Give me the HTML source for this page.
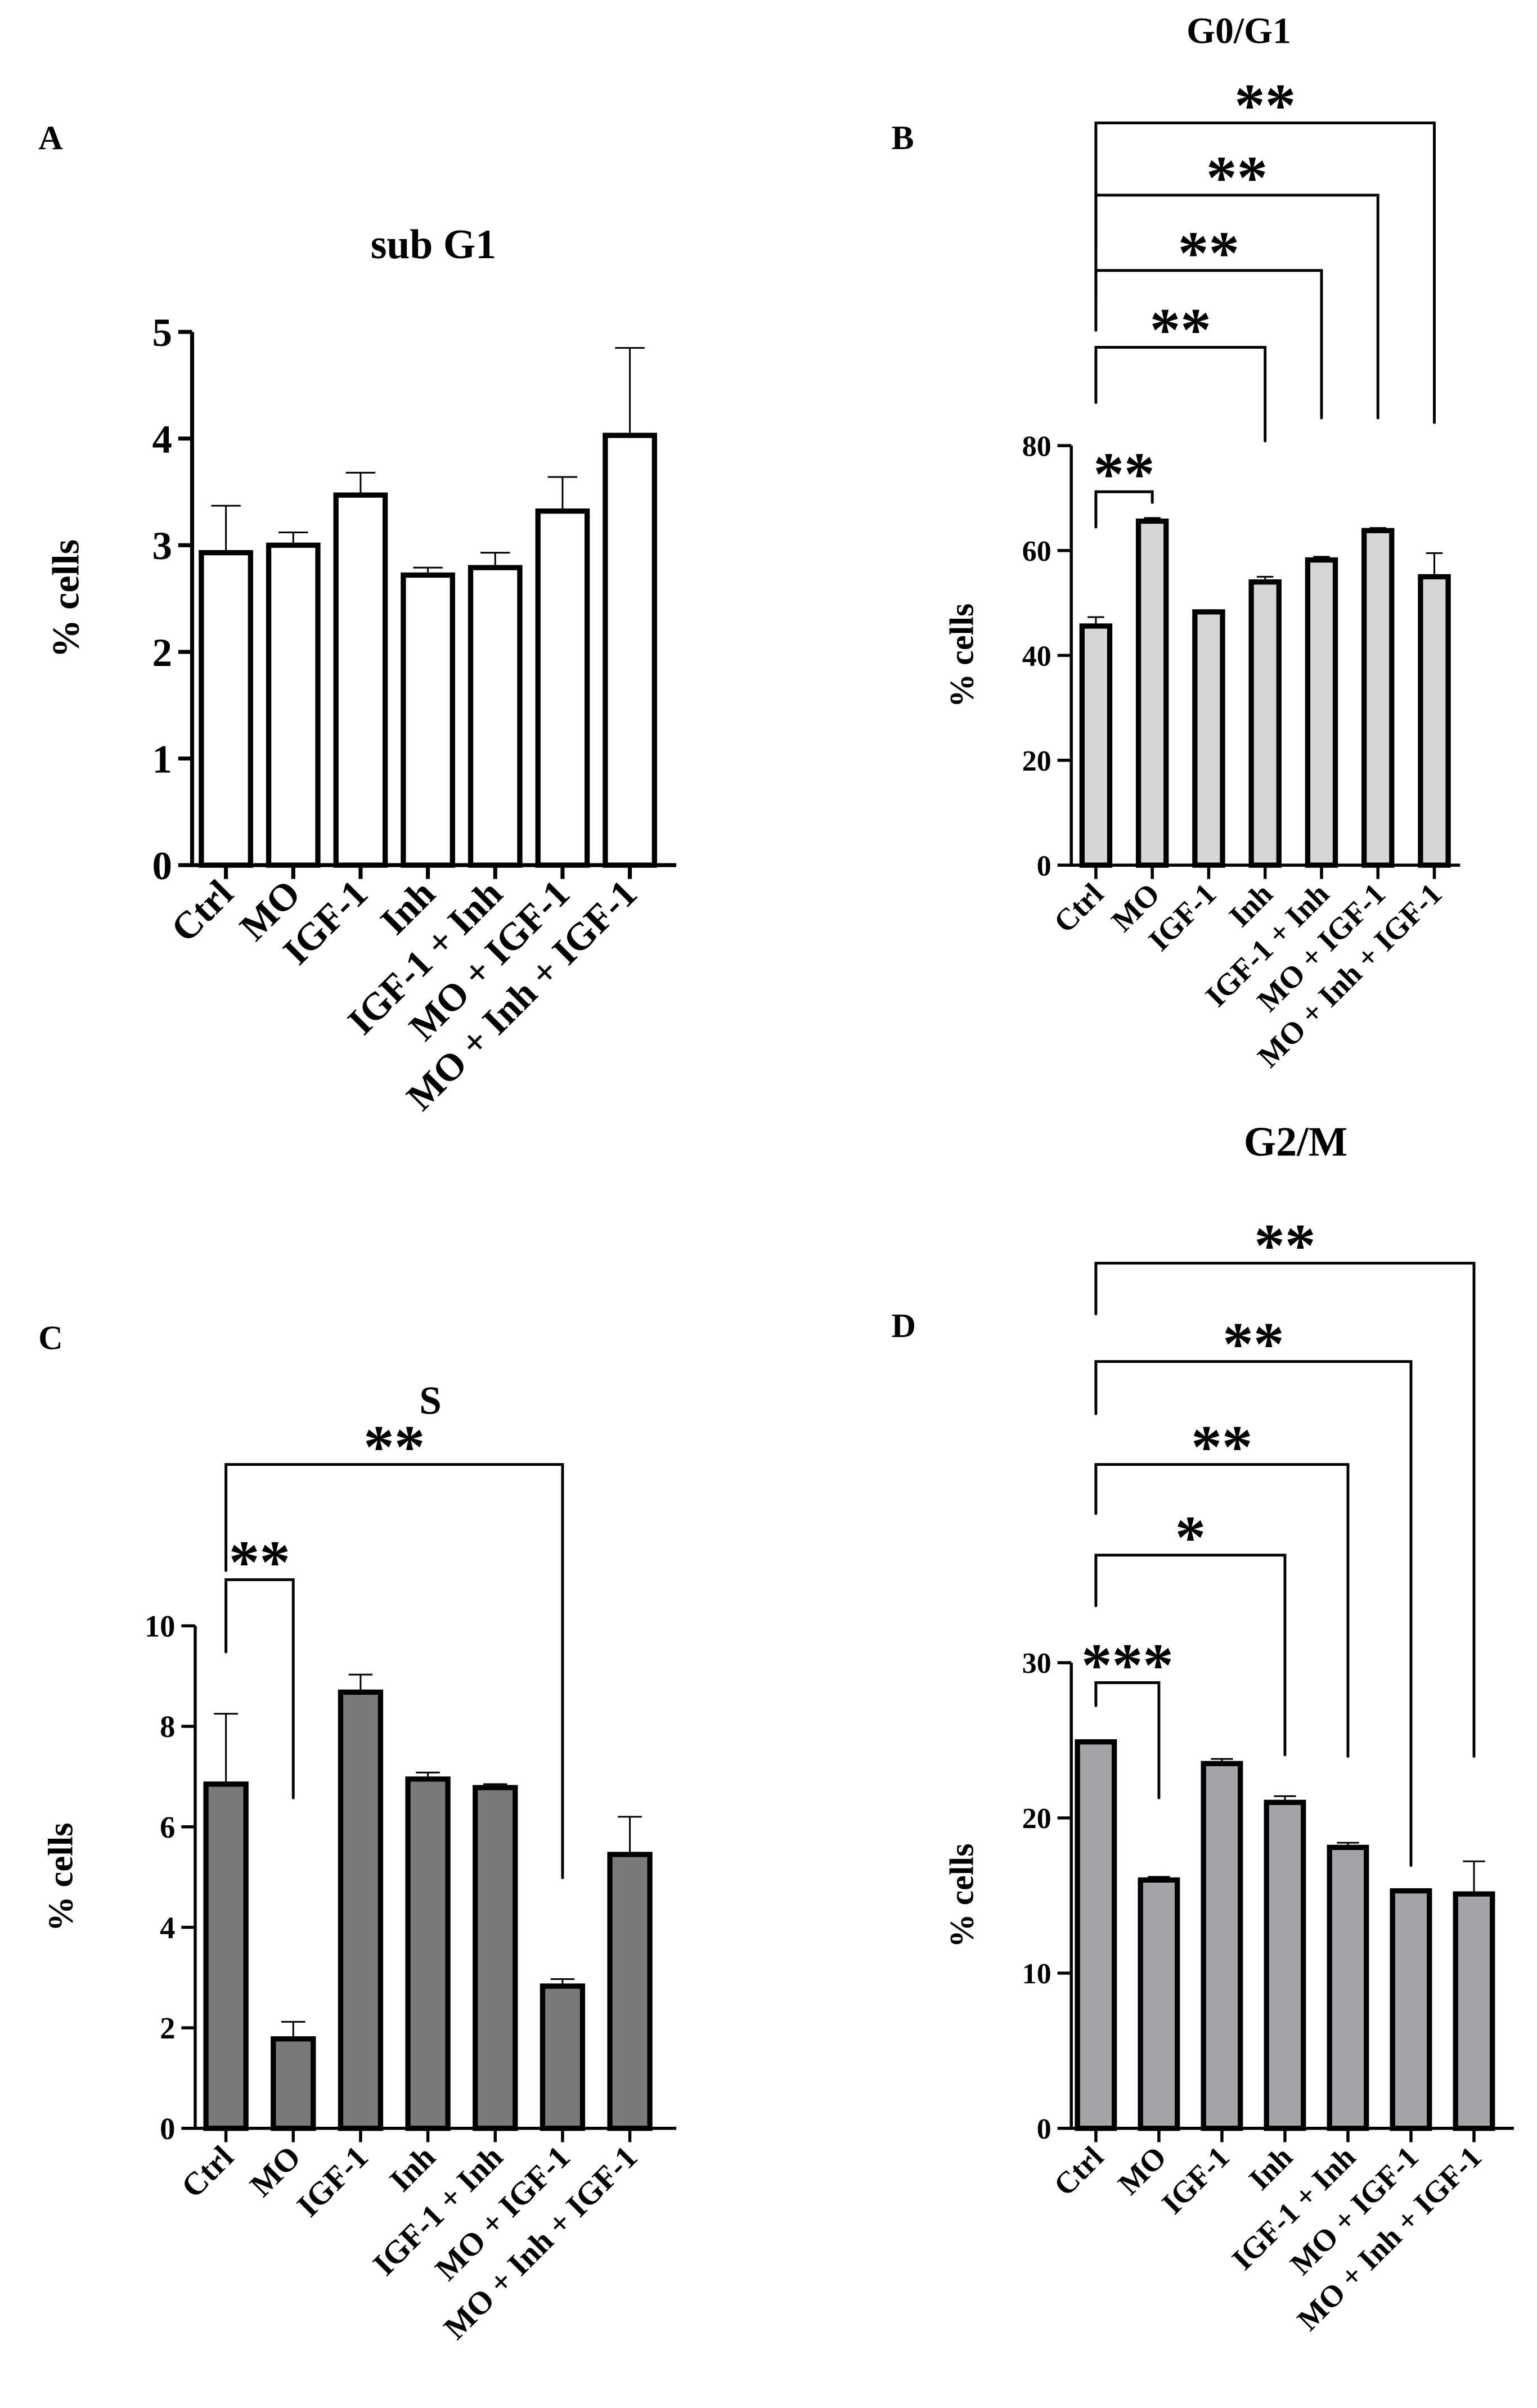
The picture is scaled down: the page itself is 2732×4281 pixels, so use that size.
<!DOCTYPE html>
<html><head><meta charset="utf-8"><style>
html,body{margin:0;padding:0;background:#fff}
svg{display:block}
text{font-family:"Liberation Serif",serif;font-weight:bold;fill:#000}
</style></head><body>
<svg id="fig" width="2732" height="4281" viewBox="0 0 1000 1567" preserveAspectRatio="none" xmlns="http://www.w3.org/2000/svg"></svg>
<script>
const categories = ["Ctrl","MO","IGF-1","Inh","IGF-1 + Inh","MO + IGF-1","MO + Inh + IGF-1"];
const subG1Values = [2.93,3.0,3.47,2.72,2.79,3.32,4.03];
const subG1Errors = [3.37,3.12,3.68,2.79,2.93,3.64,4.85];
const subG1Ticks = [0,1,2,3,4,5];
const g0g1Values = [45.6,65.6,48.3,54.0,58.2,63.8,55.0];
const g0g1Errors = [47.3,66.2,48.6,55.0,58.8,64.3,59.5];
const g0g1Ticks = [0,20,40,60,80];
const sValues = [6.85,1.78,8.68,6.95,6.78,2.83,5.45];
const sErrors = [8.25,2.12,9.03,7.08,6.85,2.97,6.2];
const sTicks = [0,2,4,6,8,10];
const g2mValues = [24.9,16.0,23.5,21.0,18.1,15.3,15.1];
const g2mErrors = [25.0,16.2,23.8,21.4,18.4,15.4,17.2];
const g2mTicks = [0,10,20,30];
const g0g1Sig = [[1,"**"],[3,"**"],[4,"**"],[5,"**"],[6,"**"]];
const sSig = [[1,"**"],[5,"**"]];
const g2mSig = [[1,"***"],[3,"*"],[4,"**"],[5,"**"],[6,"**"]];

const NS="http://www.w3.org/2000/svg";
const svg=document.getElementById('fig');
function el(tag,attrs,parent,text){const e=document.createElementNS(NS,tag);for(const k in attrs)e.setAttribute(k,attrs[k]);if(text!==undefined)e.textContent=text;(parent||svg).appendChild(e);return e;}

function panel(o){
  const g=el('g',{});
  
  
  const ymax=o.ticks[o.ticks.length-1];
  const y=v=>o.y0-(v/ymax)*(o.y0-o.yTop);
  const x=i=>o.x1+i*o.step;
  const lt=el('text',{x:o.letterX,y:o.letterY,'font-size':22},g,o.letter);
  
  
  const tt=el('text',{x:o.titleX,y:o.titleY,'font-size':o.titleSize,'text-anchor':'middle'},g,o.title);
  
  
  const yt=el('text',{x:0,y:0,'font-size':o.yTitleSize,'text-anchor':'middle',transform:`translate(${o.axisX-o.yTitleOff},${(o.y0+o.yTop)/2}) rotate(-90)`},g,'% cells');
  
  
  o.values.forEach((v,i)=>{
    const r=el('rect',{x:x(i)-o.bw/2,y:y(v),width:o.bw,height:o.y0-y(v),fill:o.fill,stroke:'#000','stroke-width':3.4},g);
    
    
    const e=el('path',{d:`M${x(i)},${y(v)}V${y(o.errors[i])}M${x(i)-o.bw*0.3},${y(o.errors[i])}H${x(i)+o.bw*0.3}`,stroke:'#000','stroke-width':1.1,fill:'none'},g);
    
    
  });
  const ax=el('path',{d:`M${o.axisX},${o.yTop}V${o.y0}H${o.xEnd}`,stroke:'#000','stroke-width':o.axisW,fill:'none'},g);
  
  
  o.ticks.forEach(t=>{
    el('path',{d:`M${o.axisX-9},${y(t)}H${o.axisX}`,stroke:'#000','stroke-width':o.axisW},g);
    const tl=el('text',{x:o.axisX-13,y:y(t)+o.tickSize*0.35,'font-size':o.tickSize,'text-anchor':'end'},g,String(t));
    
    
  });
  categories.forEach((c,i)=>{
    el('path',{d:`M${x(i)},${o.y0}V${o.y0+9}`,stroke:'#000','stroke-width':o.axisW},g);
    const xl=el('text',{x:0,y:0,'font-size':o.xSize,'text-anchor':'end',transform:`translate(${x(i)+6},${o.y0+20}) rotate(-45)`},g,c);
    
    
  });
  (o.sig||[]).forEach((s,k)=>{
    const [j,label]=s; const b=o.brackets[k];
    const p=el('path',{d:`M${x(0)},${b[1]}V${b[0]}H${x(j)}V${b[2]}`,stroke:'#000','stroke-width':1.8,fill:'none','stroke-linecap':'round'},g);
    
    
    const st=el('text',{x:(x(0)+x(j))/2,y:b[0]+2,'font-size':o.starSize,'text-anchor':'middle','font-family':'Liberation Sans'},g,label);
    
    
  });
}

panel({name:'panel-a-sub-g1',letter:'A',letterX:25,letterY:97,title:'sub G1',titleX:282,titleY:168,titleSize:27,
  values:subG1Values,errors:subG1Errors,ticks:subG1Ticks,y0:563,yTop:216,axisX:125,xEnd:440,x1:147,step:43.8,bw:32,
  fill:'#ffffff',axisW:2.6,tickSize:26,xSize:25,yTitleSize:25,yTitleOff:74});
panel({name:'panel-b-g0-g1',letter:'B',letterX:580,letterY:97,title:'G0/G1',titleX:806,titleY:28,titleSize:24,
  values:g0g1Values,errors:g0g1Errors,ticks:g0g1Ticks,y0:563,yTop:290,axisX:697,xEnd:950,x1:713,step:36.7,bw:18,
  fill:'#d6d6d6',axisW:2,tickSize:19,xSize:20,yTitleSize:22,yTitleOff:64,
  sig:g0g1Sig,starSize:40,
  brackets:[[320,343,327],[226,262,287],[176,215,272],[127,195,272],[80,160,275]]});
panel({name:'panel-c-s',letter:'C',letterX:25,letterY:878,title:'S',titleX:280,titleY:920,titleSize:26,
  values:sValues,errors:sErrors,ticks:sTicks,y0:1385,yTop:1058,axisX:127,xEnd:440,x1:147,step:43.8,bw:26,
  fill:'#7a7a7a',axisW:2,tickSize:20,xSize:21,yTitleSize:23,yTitleOff:80,
  sig:sSig,starSize:40,
  brackets:[[1028,1075,1170],[953,1022,1222]]});
panel({name:'panel-d-g2-m',letter:'D',letterX:580,letterY:870,title:'G2/M',titleX:843,titleY:752,titleSize:27,
  values:g2mValues,errors:g2mErrors,ticks:g2mTicks,y0:1385,yTop:1082,axisX:697,xEnd:985,x1:713,step:41,bw:24,
  fill:'#a4a3a8',axisW:2,tickSize:19,xSize:20,yTitleSize:22,yTitleOff:64,
  sig:g2mSig,starSize:40,
  brackets:[[1095,1110,1170],[1012,1045,1142],[953,985,1143],[886,920,1214],[822,855,1143]]});
</script>
</body></html>
